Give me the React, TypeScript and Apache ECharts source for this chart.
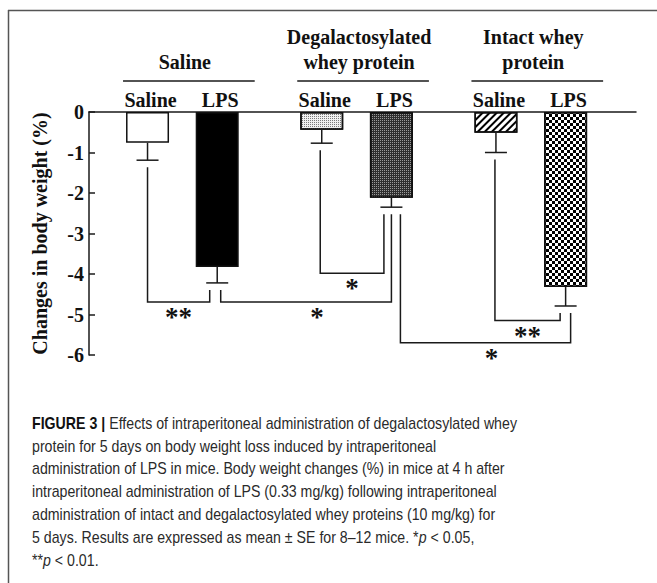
import React, { useEffect, useRef } from 'react';
import * as echarts from 'echarts';

// ---------- data ----------
const categories = ['Saline', 'LPS', 'Saline', 'LPS', 'Saline', 'LPS'];
const groupNames = ['Saline', 'Degalactosylated\nwhey protein', 'Intact whey\nprotein'];
const means = [-0.76, -3.83, -0.44, -2.12, -0.51, -4.32];
const sems = [0.43, 0.39, 0.33, 0.23, 0.49, 0.47];
const yMin = -6;
const yMax = 0;
const yStep = 1;

const bracketFrom = [0, 1, 2, 3, 4];
const bracketTo = [1, 3, 3, 5, 5];
const bracketLevels = [-4.69, -4.69, -3.98, -5.7, -5.15];
const bracketLabels = ['**', '*', '*', '*', '**'];

const yAxisTitle = 'Changes in body weight (%)';
const captionLines = [
  '{b|FIGURE 3 |} Effects of intraperitoneal administration of degalactosylated whey',
  'protein for 5 days on body weight loss induced by intraperitoneal',
  'administration of LPS in mice. Body weight changes (%) in mice at 4 h after',
  'intraperitoneal administration of LPS (0.33 mg/kg) following intraperitoneal',
  'administration of intact and degalactosylated whey proteins (10 mg/kg) for',
  '5 days. Results are expressed as mean \u00b1 SE for 8\u201312 mice. *{i|p} < 0.05,',
  '**{i|p} < 0.01.',
];

// ---------- layout ----------
const W = 657;
const H = 583;
const GRID = { left: 89, right: 21, top: 112, bottom: 228 };
const X_MIN = -0.84;
const X_MAX = 7.01;
const bracketFromDx = [0, 3.5, -1.5, 9, -1];
const bracketToDx = [-7.5, 0, -7.5, 5, -5.5];
const bracketLabelDx = [0, 11, 0, 6, 0];
const xPos = categories.map((_, i) => Math.floor(i / 2) * 2.5 + (i % 2));

const serif = '"Liberation Serif", "Times New Roman", serif';
const sans = '"Liberation Sans", Arial, sans-serif';
const ink = '#1a1a1a';

const barStyles: any[] = [
  { color: '#ffffff' },
  { color: '#000000' },
  {
    color: '#f0f0f0',
    decal: { symbol: 'rect', symbolSize: 1, color: '#7a7a7a', dashArrayX: [1, 1], dashArrayY: [1, 1] },
  },
  {
    color: '#2e2e2e',
    decal: { symbol: 'rect', symbolSize: 1, color: '#9a9a9a', dashArrayX: [1, 1], dashArrayY: [1, 1] },
  },
  {
    color: '#ffffff',
    decal: {
      symbol: 'rect',
      symbolSize: 1,
      symbolKeepAspect: false,
      color: '#000000',
      dashArrayX: [1, 0],
      dashArrayY: [1.4, 2.2],
      rotation: -Math.PI / 4,
    },
  },
  {
    color: '#ffffff',
    decal: {
      symbol: 'rect',
      symbolSize: 1,
      symbolKeepAspect: false,
      color: '#000000',
      dashArrayX: [[3, 3], [0, 3, 3, 0]],
      dashArrayY: [3, 0],
    },
  },
];

function measure(text: string, font: string) {
  const c = document.createElement('canvas').getContext('2d');
  if (!c) return 600;
  c.font = font;
  return c.measureText(text).width;
}

export default function App() {
  const ref = useRef<HTMLDivElement>(null);

  useEffect(() => {
    if (!ref.current) return;
    const chart = echarts.init(ref.current, undefined, { renderer: 'svg' });

    const capFontSize = 16;
    const capScale = 473 / measure(captionLines[2], `${capFontSize}px ${sans}`);
    const capRich = {
      b: { fontFamily: sans, fontSize: capFontSize, fontWeight: 'bold', fill: '#111' },
      i: { fontFamily: sans, fontSize: capFontSize, fontStyle: 'italic', fill: '#2a2a2a' },
    };

    const captionEls = captionLines.map((t, k) => ({
      type: 'text',
      x: 32,
      y: 423 + k * 22.8,
      scaleX: capScale,
      style: {
        text: t,
        fontFamily: sans,
        fontSize: capFontSize,
        fill: '#2a2a2a',
        verticalAlign: 'middle',
        align: 'left',
        rich: capRich,
      },
    }));

    const lineStyle = { stroke: ink, lineWidth: 1.5 };

    const option: any = {
      animation: false,
      backgroundColor: '#ffffff',
      grid: { ...GRID, containLabel: false },
      xAxis: {
        type: 'value',
        min: X_MIN,
        max: X_MAX,
        position: 'top',
        axisLine: { show: true, onZero: false, lineStyle: { color: ink, width: 1.5 } },
        axisTick: { show: false },
        axisLabel: { show: false },
        splitLine: { show: false },
      },
      yAxis: {
        type: 'value',
        min: yMin,
        max: yMax,
        interval: yStep,
        axisLine: { show: true, onZero: false, lineStyle: { color: ink, width: 1.5 } },
        axisTick: { show: true, inside: true, length: 6, lineStyle: { color: ink, width: 1.5 } },
        axisLabel: { color: '#111', fontFamily: serif, fontWeight: 'bold', fontSize: 20, margin: 5 },
        splitLine: { show: false },
        name: yAxisTitle,
        nameLocation: 'middle',
        nameGap: 39,
        nameRotate: 90,
        nameTextStyle: { color: '#111', fontFamily: serif, fontWeight: 'bold', fontSize: 20 },
      },
      series: [
        {
          type: 'bar',
          barWidth: 43,
          data: means.map((m, i) => ({ value: [xPos[i], m], itemStyle: barStyles[i] })),
          itemStyle: { borderColor: '#111', borderWidth: 1.5 },
          z: 2,
        },
        {
          type: 'custom',
          clip: false,
          z: 3,
          data: means.map((m, i) => [xPos[i], m, sems[i]]),
          encode: { x: 0, y: 1 },
          renderItem: (params: any, api: any) => {
            const x = api.value(0);
            const m = api.value(1);
            const e = api.value(2);
            const top = api.coord([x, m]);
            const bot = api.coord([x, m - e]);
            const zero = api.coord([x, 0]);
            return {
              type: 'group',
              children: [
                { type: 'line', shape: { x1: top[0], y1: top[1], x2: bot[0], y2: bot[1] }, style: lineStyle },
                { type: 'line', shape: { x1: bot[0] - 11, y1: bot[1], x2: bot[0] + 11, y2: bot[1] }, style: lineStyle },
                {
                  type: 'text',
                  x: zero[0] + 3,
                  y: zero[1] - 12,
                  style: {
                    text: categories[params.dataIndex],
                    fill: '#111',
                    fontFamily: serif,
                    fontWeight: 'bold',
                    fontSize: 20,
                    align: 'center',
                    verticalAlign: 'middle',
                  },
                },
              ],
            };
          },
        },
        {
          type: 'custom',
          clip: false,
          z: 3,
          data: groupNames.map((_, g) => [xPos[2 * g], 0, xPos[2 * g + 1]]),
          encode: { x: 0, y: 1 },
          renderItem: (params: any, api: any) => {
            const a = api.coord([api.value(0), 0]);
            const b = api.coord([api.value(2), 0]);
            const x1 = a[0] - 24.5;
            const x2 = b[0] + 37.5;
            const ly = a[1] - 31;
            const cx = (x1 + x2) / 2 - 4;
            const lines = groupNames[params.dataIndex].split('\n');
            const children: any[] = [
              { type: 'line', shape: { x1, y1: ly, x2, y2: ly }, style: lineStyle },
            ];
            lines.forEach((t, k) => {
              children.push({
                type: 'text',
                x: cx,
                y: a[1] - 50 - (lines.length - 1 - k) * 25,
                style: {
                  text: t,
                  fill: '#111',
                  fontFamily: serif,
                  fontWeight: 'bold',
                  fontSize: 20,
                  align: 'center',
                  verticalAlign: 'middle',
                },
              });
            });
            return { type: 'group', children };
          },
        },
        {
          type: 'custom',
          clip: false,
          z: 3,
          data: bracketFrom.map((f, k) => [xPos[f], bracketLevels[k], xPos[bracketTo[k]]]),
          encode: { x: 0, y: 1 },
          renderItem: (params: any, api: any) => {
            const k = params.dataIndex;
            const f = bracketFrom[k];
            const t = bracketTo[k];
            const level = api.value(1);
            const xa = api.coord([api.value(0), 0])[0] + bracketFromDx[k];
            const xb = api.coord([api.value(2), 0])[0] + bracketToDx[k];
            const ya = api.coord([0, means[f] - sems[f]])[1] + 7;
            const yb = api.coord([0, means[t] - sems[t]])[1] + 7;
            const yl = api.coord([0, level])[1];
            return {
              type: 'group',
              children: [
                {
                  type: 'polyline',
                  shape: { points: [[xa, ya], [xa, yl], [xb, yl], [xb, yb]] },
                  style: { stroke: ink, lineWidth: 1.5, fill: 'none' },
                },
                {
                  type: 'text',
                  x: (xa + xb) / 2 + bracketLabelDx[k],
                  y: yl + 15,
                  style: {
                    text: bracketLabels[k],
                    fill: '#111',
                    fontFamily: serif,
                    fontWeight: 'bold',
                    fontSize: 27,
                    align: 'center',
                    verticalAlign: 'middle',
                  },
                },
              ],
            };
          },
        },
      ],
      graphic: {
        elements: [
          { type: 'line', shape: { x1: 8, y1: 10.5, x2: W, y2: 10.5 }, style: { stroke: '#555', lineWidth: 1.5 } },
          { type: 'line', shape: { x1: 8.5, y1: 10, x2: 8.5, y2: H }, style: { stroke: '#555', lineWidth: 1.5 } },
          ...captionEls,
        ],
      },
    };

    chart.setOption(option);
    return () => chart.dispose();
  }, []);

  return (
    <div
      ref={ref}
      style={{ position: 'absolute', left: 0, top: 0, width: W, height: H }}
    />
  );
}
